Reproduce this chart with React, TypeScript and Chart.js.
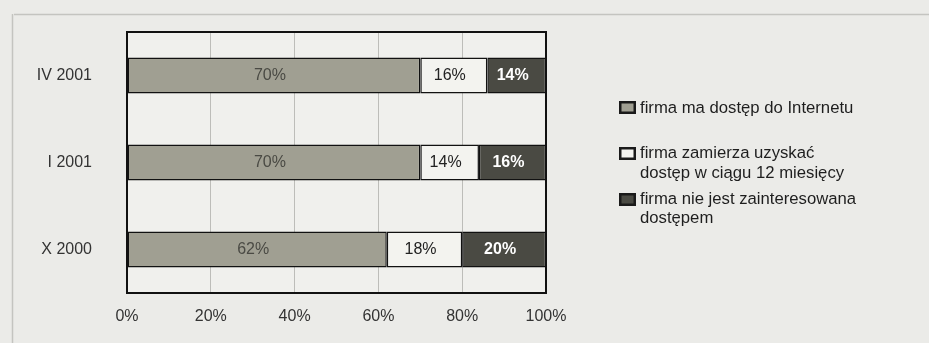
import React, { useEffect, useRef } from "react";
import { Chart, registerables } from "chart.js";

Chart.register(...registerables);

const categories = ["IV 2001", "I 2001", "X 2000"];
const seriesNames = [
  ["firma ma dostęp do Internetu"],
  ["firma zamierza uzyskać", "dostęp w ciągu 12 miesięcy"],
  ["firma nie jest zainteresowana", "dostępem"],
];
const hasAccess = [70, 70, 62];
const plansAccess = [16, 14, 18];
const notInterested = [14, 16, 20];
const xTicks = [0, 20, 40, 60, 80, 100];

const colors = ["#a09f92", "#f3f3ef", "#4a4a43"];
const labelColors = ["#4a4a44", "#222222", "#ffffff"];
const labelWeights = ["normal", "normal", "bold"];
const FONT = '"Liberation Sans", Arial, Helvetica, sans-serif';

const framePlugin = {
  id: "frame",
  beforeDraw(chart: any) {
    const { ctx, width, height, chartArea } = chart;
    ctx.save();
    ctx.fillStyle = "#ebebe8";
    ctx.fillRect(0, 0, width, height);
    ctx.strokeStyle = "#c4c4c0";
    ctx.lineWidth = 1.5;
    ctx.beginPath();
    ctx.moveTo(14, 14.5);
    ctx.lineTo(width, 14.5);
    ctx.moveTo(12.5, 14);
    ctx.lineTo(12.5, height);
    ctx.stroke();
    ctx.fillStyle = "#f0f0ed";
    ctx.fillRect(chartArea.left, chartArea.top, chartArea.right - chartArea.left, chartArea.bottom - chartArea.top);
    ctx.restore();
  },
  afterDraw(chart: any) {
    const { ctx, chartArea } = chart;
    ctx.save();
    ctx.strokeStyle = "#111";
    ctx.lineWidth = 2;
    ctx.strokeRect(chartArea.left, chartArea.top, chartArea.right - chartArea.left, chartArea.bottom - chartArea.top);

    // legend
    const lx = chartArea.right + 73;
    const items = [
      { sq: 69, lines: [76] },
      { sq: 115, lines: [121, 141] },
      { sq: 161, lines: [167, 186] },
    ];
    ctx.font = `16.7px ${FONT}`;
    ctx.textBaseline = "middle";
    ctx.textAlign = "left";
    items.forEach((it, i) => {
      const sy = chartArea.top + it.sq;
      ctx.fillStyle = "#1a1a1a";
      ctx.fillRect(lx, sy, 17, 13);
      ctx.fillStyle = colors[i];
      ctx.fillRect(lx + 2.5, sy + 2.5, 12, 8);
      ctx.fillStyle = "#1e1e1e";
      it.lines.forEach((ly, j) => {
        ctx.fillText(seriesNames[i][j], lx + 21, chartArea.top + ly);
      });
    });
    ctx.restore();
  },
  afterDatasetsDraw(chart: any) {
    const { ctx } = chart;
    ctx.save();
    ctx.textAlign = "center";
    ctx.textBaseline = "middle";
    chart.data.datasets.forEach((ds: any, di: number) => {
      const meta = chart.getDatasetMeta(di);
      meta.data.forEach((el: any, i: number) => {
        const cx = (el.x + el.base) / 2 - 4;
        ctx.font = `${labelWeights[di]} 16px ${FONT}`;
        ctx.fillStyle = labelColors[di];
        ctx.fillText(ds.data[i] + "%", cx, el.y);
      });
    });
    ctx.restore();
  },
};

export default function App() {
  const ref = useRef<HTMLCanvasElement>(null);
  useEffect(() => {
    const data = {
      labels: categories,
      datasets: [hasAccess, plansAccess, notInterested].map((d, i) => ({
        label: seriesNames[i].join(" "),
        data: d,
        backgroundColor: colors[i],
        borderColor: "#111",
        borderWidth: 1.5,
        borderSkipped: false,
        barPercentage: 0.415,
        categoryPercentage: 1,
      })),
    };
    const chart = new Chart(ref.current as HTMLCanvasElement, {
      type: "bar",
      data,
      plugins: [framePlugin],
      options: {
        animation: false,
        responsive: false,
        devicePixelRatio: 1,
        indexAxis: "y",
        layout: { padding: { top: 32, right: 383, bottom: 0, left: 0 } },
        plugins: { legend: { display: false }, tooltip: { enabled: false } },
        scales: {
          x: {
            stacked: true,
            min: 0,
            max: 100,
            afterBuildTicks: (scale: any) => {
              scale.ticks = xTicks.map((v) => ({ value: v }));
            },
            afterFit: (scale: any) => {
              scale.height = 50;
            },
            grid: { color: "#bdbdb9", lineWidth: 1, drawTicks: false },
            border: { display: false },
            ticks: {
              padding: 14,
              color: "#333",
              font: { family: FONT, size: 16 },
              callback: (v: any) => v + "%",
            },
          },
          y: {
            stacked: true,
            afterFit: (scale: any) => {
              scale.width = 127;
              scale.paddingTop = 0;
              scale.paddingBottom = 0;
            },
            grid: { display: false, drawTicks: false },
            border: { display: false },
            ticks: {
              padding: 35,
              color: "#333",
              font: { family: FONT, size: 16 },
            },
          },
        },
      } as any,
    });
    return () => chart.destroy();
  }, []);
  return (
    <div style={{ position: "fixed", left: 0, top: 0, width: 929, height: 343 }}>
      <canvas ref={ref} width={929} height={343} style={{ width: 929, height: 343 }} />
    </div>
  );
}
